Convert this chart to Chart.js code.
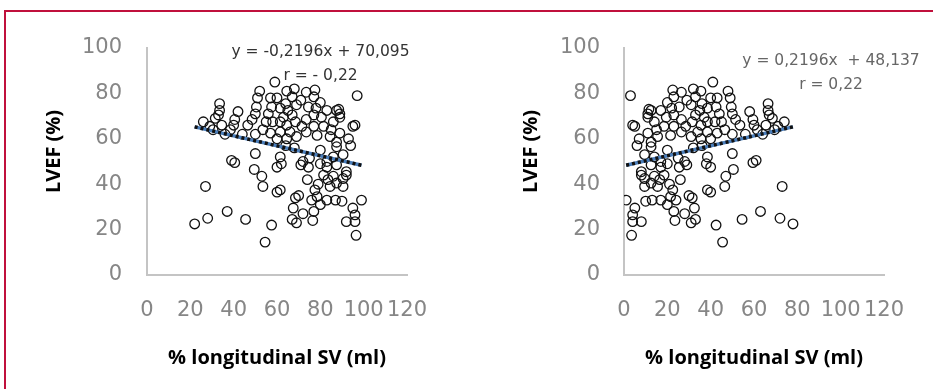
<!DOCTYPE html>
<html>
<head>
<meta charset="utf-8">
<script src="https://cdn.jsdelivr.net/npm/chart.js@4.4.1/dist/chart.umd.min.js"></script>
<style>
  html, body { margin: 0; padding: 0; background: #fff; }
  body { width: 933px; height: 389px; position: relative; overflow: hidden; }
  /* рамка видна только слева и сверху */
  .frame { position: absolute; left: 4px; top: 10px; width: 1000px; height: 500px;
           border-left: 2px solid #c0103c; border-top: 2px solid #c0103c; }
  .cell { position: absolute; top: 0; height: 389px; }
  #left { left: 0; width: 466px; }
  #right { left: 466px; width: 467px; }
</style>
</head>
<body>
<div class="frame"></div>
<div class="cell" id="left"><canvas id="c1" width="466" height="389"></canvas></div>
<div class="cell" id="right"><canvas id="c2" width="467" height="389"></canvas></div>
<script>
// LVEF (%) — общая ось Y для обоих графиков
const lvef = [
  85, 79, 81, 78, 74, 71, 78, 74, 71, 81, 82, 78.5, 75.5, 73.5, 72.5, 75, 70.5, 80.5, 81.5, 78.5,
  76, 74, 73.5, 70.5, 72.5, 72.5, 71, 73, 69.5, 69.5, 75.5, 72.5, 70.5, 72, 78, 77, 69, 67.5, 68.5, 66,
  64, 65.5, 64, 66, 68.5, 66, 67.5, 67.5, 64, 62.5, 69.5, 67.5, 66, 67.5, 65.5, 63, 61, 63, 60, 60,
  68.5, 67.5, 65.5, 64, 65.5, 63, 61.5, 61, 62.5, 65.5, 60, 58.5, 66, 57, 62, 62, 62, 50.5, 53.5, 52,
  50, 51.5, 50, 52, 53, 49.5, 46.5, 43.5, 39, 47.5, 49, 48.5, 47.5, 49, 47.5, 48.5, 45.5, 56.5, 56, 55,
  57, 36.5, 37.5, 39, 34, 35, 29.5, 37.5, 34.5, 33, 44, 42, 43.5, 40.5, 39, 39, 44, 33, 32.5, 33,
  33, 29.5, 42.5, 40, 31, 42, 22.5, 25, 28, 24.5, 22, 14.5, 24.5, 23, 27, 24, 28, 26.5, 23.5, 23.5, 17.5,
];

// % longitudinal SV (ml), левый график
const svLeft = [
  59, 97, 52, 51, 50.5, 50, 57, 57.5, 56, 64.5, 68, 67, 64, 61.5, 65, 69, 67, 73.5, 77.5, 77,
  80, 74.5, 78, 77, 83, 87.5, 89, 88.5, 80.5, 89, 33.5, 33.5, 33, 42, 60, 71, 31.5, 26, 40.5, 40,
  38.5, 29, 30.5, 34.5, 48.5, 46.5, 58, 55, 53.5, 57, 63, 61.5, 64.5, 68.5, 71.5, 66, 69, 61.5, 60, 64.5,
  73.5, 86, 81.5, 85, 77, 73.5, 78.5, 84.5, 89, 95, 93, 87.5, 96, 94, 44, 50, 36, 39, 50, 61.5,
  72, 75, 83, 86, 90.5, 40.5, 49.5, 53, 53.5, 60, 62, 71, 74.5, 80, 83, 87.5, 92, 87.5, 68, 80,
  64, 60, 61.5, 27, 68.5, 70, 67.5, 77.5, 78.5, 76, 81.5, 83.5, 86, 87.5, 84.5, 90.5, 92, 87, 90, 83,
  99, 95, 90.5, 79, 80, 74, 22, 28, 37, 45.5, 57.5, 54.5, 67, 69, 72, 76.5, 77, 96, 92, 96, 96.5,
];

// % longitudinal SV (ml), правый график
const svRight = [
  41, 3, 48, 49, 49.5, 50, 43, 42.5, 44, 35.5, 32, 33, 36, 38.5, 35, 31, 33, 26.5, 22.5, 23,
  20, 25.5, 22, 23, 17, 12.5, 11, 11.5, 19.5, 11, 66.5, 66.5, 67, 58, 40, 29, 68.5, 74, 59.5, 60,
  61.5, 71, 69.5, 65.5, 51.5, 53.5, 42, 45, 46.5, 43, 37, 38.5, 35.5, 31.5, 28.5, 34, 31, 38.5, 40, 35.5,
  26.5, 14, 18.5, 15, 23, 26.5, 21.5, 15.5, 11, 5, 7, 12.5, 4, 6, 56, 50, 64, 61, 50, 38.5,
  28, 25, 17, 14, 9.5, 59.5, 50.5, 47, 46.5, 40, 38, 29, 25.5, 20, 17, 12.5, 8, 12.5, 32, 20,
  36, 40, 38.5, 73, 31.5, 30, 32.5, 22.5, 21.5, 24, 18.5, 16.5, 14, 12.5, 15.5, 9.5, 8, 13, 10, 17,
  1, 5, 9.5, 21, 20, 26, 78, 72, 63, 54.5, 42.5, 45.5, 33, 31, 28, 23.5, 23, 4, 8, 4, 3.5,
];

const xTicks = [0, 20, 40, 60, 80, 100, 120];
const yTicks = [0, 20, 40, 60, 80, 100];

// линии тренда из подписей Excel
const fitLeft = { slope: -0.2196, icpt: 70.095, eq: "y = -0,2196x + 70,095", r: "r = - 0,22" };
const fitRight = { slope: 0.2196, icpt: 48.137, eq: "y = 0,2196x  + 48,137", r: "r = 0,22" };

const TICK_COLOR = "#868686";
const AXIS_LINE = "#c4c4c4";
const NUM_FONT = "DejaVu Sans";
const TITLE_FONT = "Open Sans";

// подписи: названия осей и уравнение тренда
const textsPlugin = {
  id: "texts",
  afterDraw(chart, args, o) {
    const { ctx, chartArea: a } = chart;
    const cx = (a.left + a.right) / 2;
    ctx.save();
    ctx.textAlign = "center";
    ctx.textBaseline = "middle";
    ctx.fillStyle = "#000";
    ctx.font = `bold 20px '${TITLE_FONT}'`;
    ctx.fillText("% longitudinal SV (ml)", cx, a.bottom + 83);
    ctx.save();
    ctx.translate(a.left - 93, (a.top + a.bottom) / 2 - 10);
    ctx.rotate(-Math.PI / 2);
    ctx.fillText("LVEF (%)", 0, 0);
    ctx.restore();
    ctx.fillStyle = o.eqColor;
    ctx.font = `15.5px '${NUM_FONT}'`;
    ctx.fillText(o.eq, a.left + o.eqDx, a.top + o.eqDy);
    ctx.fillText(o.r, a.left + o.eqDx, a.top + o.eqDy + 24);
    ctx.restore();
  },
};

function makeChart(canvas, sv, fit, lay) {
  const pts = sv.map((x, i) => ({ x, y: lvef[i] }));
  const x0 = Math.min(...sv);
  const x1 = Math.max(...sv);
  const trend = [x0, x1].map((x) => ({ x, y: fit.slope * x + fit.icpt }));
  return new Chart(canvas, {
    type: "scatter",
    data: {
      datasets: [
        { data: trend, showLine: true, borderColor: "#111", borderWidth: 3.5, borderDash: [3, 3], pointRadius: 0 },
        { data: trend, showLine: true, borderColor: "#4a7ebb", borderWidth: 3.5, pointRadius: 0 },
        { data: pts, pointRadius: 4.8, borderWidth: 1.3, borderColor: "#111", backgroundColor: "rgba(0,0,0,0)" },
      ],
    },
    options: {
      responsive: false,
      animation: false,
      events: [],
      layout: { padding: { top: 48, right: lay.padRight, left: 0, bottom: 0 } },
      plugins: {
        legend: { display: false },
        tooltip: { enabled: false },
        texts: { eq: fit.eq, r: fit.r, eqColor: lay.eqColor, eqDx: lay.eqDx, eqDy: lay.eqDy },
      },
      scales: {
        x: {
          type: "linear", min: 0, max: 120,
          afterBuildTicks: (s) => { s.ticks = xTicks.map((v) => ({ value: v })); },
          afterFit: (s) => { s.height = 114; },
          ticks: { color: TICK_COLOR, font: { family: NUM_FONT, size: 21 }, padding: 23, maxRotation: 0, autoSkip: false },
          grid: { display: false, drawTicks: false },
          border: { color: AXIS_LINE, width: 2 },
        },
        y: {
          type: "linear", min: 0, max: 100,
          afterBuildTicks: (s) => { s.ticks = yTicks.map((v) => ({ value: v })); },
          afterFit: (s) => { s.width = lay.axisW; },
          ticks: { color: TICK_COLOR, font: { family: NUM_FONT, size: 21 }, padding: lay.yPad },
          grid: { display: false, drawTicks: false },
          border: { color: AXIS_LINE, width: 2 },
        },
      },
    },
    plugins: [textsPlugin],
  });
}

makeChart(document.getElementById("c1"), svLeft, fitLeft,
  { axisW: 147, padRight: 59, yPad: 25, eqColor: "#333", eqDx: 173.5, eqDy: 4 });
makeChart(document.getElementById("c2"), svRight, fitRight,
  { axisW: 158, padRight: 49, yPad: 24, eqColor: "#666", eqDx: 207, eqDy: 13 });
</script>
</body>
</html>
